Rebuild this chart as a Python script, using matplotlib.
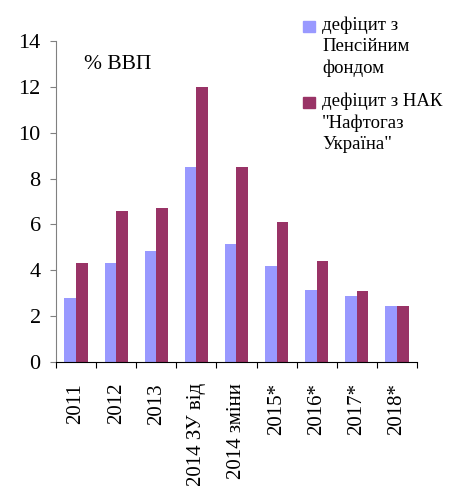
import numpy as np
import matplotlib.pyplot as plt
from matplotlib.patches import Rectangle

plt.rcParams['font.family'] = ['Liberation Serif', 'DejaVu Serif']

categories = ['2011', '2012', '2013', '2014 ЗУ від', '2014 зміни',
              '2015*', '2016*', '2017*', '2018*']
pension = [2.8, 4.3, 4.85, 8.5, 5.15, 4.2, 3.15, 2.9, 2.45]
naftogaz = [4.3, 6.6, 6.7, 12.0, 8.5, 6.1, 4.4, 3.1, 2.45]
series_names = ['дефіцит з\nПенсійним\nфондом',
                'дефіцит з НАК\n"Нафтогаз\nУкраїна"']
colors = ['#9999FF', '#993366']

fig = plt.figure(figsize=(4.57, 4.86), dpi=100)
ax = fig.add_axes([0.1225, 0.255, 0.79, 0.661])

x = np.arange(len(categories))
w = 0.29
ax.bar(x - w / 2, pension, w, color=colors[0])
ax.bar(x + w / 2, naftogaz, w, color=colors[1])

ax.set_xlim(-0.5, len(categories) - 0.5)
ax.set_ylim(0, 14)
ax.set_yticks(range(0, 15, 2))
ax.tick_params(axis='y', labelsize=16, direction='out', length=4, pad=7,
               color='#808080')

# ticks between categories, labels at centres
ax.set_xticks(np.arange(-0.5, len(categories), 1))
ax.set_xticklabels([])
ax.set_xticks(x, minor=True)
ax.set_xticklabels(categories, minor=True, rotation=90, fontsize=15, va='top')
ax.tick_params(axis='x', which='major', direction='out', length=4, color='black')
ax.tick_params(axis='x', which='minor', length=0, pad=15)

ax.spines['top'].set_visible(False)
ax.spines['right'].set_visible(False)
ax.spines['left'].set_color('#808080')
ax.spines['bottom'].set_color('black')

ax.text(0.078, 0.955, '% ВВП', transform=ax.transAxes, fontsize=15.5, va='top')

# legend: square aligned with the first line of each entry
W, H = fig.get_size_inches() * fig.dpi
for i, (name, c) in enumerate(zip(series_names, colors)):
    top = 17 + i * 76
    fig.patches.append(Rectangle((303 / W, 1 - (top + 15) / H), 12 / W, 11 / H,
                                 color=c, transform=fig.transFigure))
    fig.text(322 / W, 1 - top / H, name, fontsize=13.5, va='top', ha='left',
             linespacing=1.3)

fig.savefig('out.png', dpi=100)
